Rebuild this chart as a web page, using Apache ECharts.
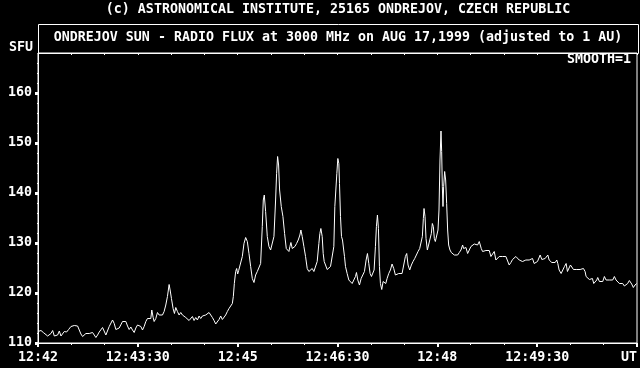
<!DOCTYPE html>
<html><head><meta charset="utf-8">
<script src="https://cdn.jsdelivr.net/npm/echarts@6/dist/echarts.min.js"></script>
<style>html,body{margin:0;padding:0;background:#000;overflow:hidden}#c{width:640px;height:368px}</style>
</head><body><div id="c"></div><script>
const header = '(c) ASTRONOMICAL INSTITUTE, 25165 ONDREJOV, CZECH REPUBLIC';
const chartTitle = 'ONDREJOV SUN - RADIO FLUX at 3000 MHz on AUG 17,1999 (adjusted to 1 AU)';
const yName = 'SFU';
const smoothNote = 'SMOOTH=1';
const xTickSeconds = [0, 90, 180, 270, 360, 450, 540];
const xTickLabels = ['12:42', '12:43:30', '12:45', '12:46:30', '12:48', '12:49:30', 'UT'];
const yTickValues = [110, 120, 130, 140, 150, 160];
const yMinorValues = [112, 114, 116, 118, 122, 124, 126, 128, 132, 134, 136, 138, 142, 144, 146, 148, 152, 154, 156, 158, 162, 164, 166];

// seconds after 12:42:00 UT
const seconds = [
0,2.7,4.8,6.6,8.7,10.2,11.7,13.2,14.7,16.2,17.7,19.2,20.7,22.2,23.7,25.8,27.6,29.7,31.2,32.7,34.2,35.7,37.2,38.7,40.2,41.7,43.2,44.7,46.2,47.7,49.2,50.7,52.2,53.7,55.2,56.7,58.2,59.7,61.2,62.7,64.2,65.7,67.2,68.7,70.2,71.7,73.2,74.7,76.2,77.7,79.2,80.7,82.2,83.7,85.2,86.7,88.2,89.7,91.2,
92.7,94.2,95.7,97.2,98.7,100.2,101.7,102.6,103.8,104.7,106.2,107.7,109.2,110.7,112.2,113.7,115.2,116.7,118.2,119.1,120.3,121.8,123.0,124.2,125.7,127.2,128.7,130.2,131.7,133.2,134.7,136.2,137.7,139.2,140.7,142.2,143.7,145.2,146.7,148.2,149.7,151.2,152.7,154.2,155.7,157.2,158.7,160.2,161.7,163.2,164.7,166.2,167.7,169.2,170.7,172.2,173.7,175.2,176.1,177.0,178.2,179.1,180.0,180.9,181.8,
182.7,184.2,185.7,187.2,188.7,190.2,191.7,193.2,194.7,196.2,197.7,199.2,200.7,202.2,203.1,204.0,205.2,206.7,208.2,209.7,211.2,212.7,214.2,215.1,216.0,216.9,217.8,219.3,220.8,222.3,223.8,225.0,226.2,227.1,228.0,229.2,230.4,231.6,233.1,234.6,236.1,237.0,238.2,239.7,241.2,242.7,244.2,245.7,247.2,248.7,250.2,251.7,253.2,254.1,255.0,256.2,257.1,258.0,259.2,260.7,262.2,263.7,265.2,266.7,267.6,268.5,269.4,270.3,271.2,
271.8,272.7,273.6,274.5,275.4,276.3,277.2,278.7,280.2,281.7,283.2,284.7,286.2,287.1,288.3,289.8,291.3,292.8,294.3,295.8,297.0,298.2,299.4,300.6,301.8,303.0,304.2,305.1,306.0,306.9,307.8,308.7,309.9,311.1,312.3,313.5,314.7,316.2,317.7,319.2,320.7,322.2,323.7,325.2,326.7,328.2,329.7,331.2,332.4,333.6,335.1,336.6,338.1,339.6,341.1,342.6,344.1,345.6,346.5,347.4,348.0,348.9,349.8,351.0,352.2,
354.6,355.5,356.4,357.3,358.2,359.4,360.6,361.5,362.4,363.3,363.9,364.5,365.1,365.7,366.6,367.5,368.4,369.3,370.2,371.4,372.6,373.8,375.3,376.8,378.3,379.8,381.3,382.8,383.7,384.6,385.8,387.3,388.8,390.3,391.8,393.3,394.8,396.3,397.8,398.7,399.6,400.8,402.3,403.8,405.3,406.8,408.3,409.8,411.3,412.8,414.3,415.8,417.3,418.8,420.3,421.8,423.3,424.8,426.3,427.8,429.3,430.8,432.3,433.8,435.3,436.8,438.3,439.8,441.3,442.8,444.3,445.8,447.3,448.8,450.3,451.8,
452.7,454.2,455.7,457.2,458.7,459.6,460.8,461.7,463.2,464.7,466.2,467.7,468.6,469.8,471.6,473.1,474.6,476.1,477.3,478.5,480.0,481.2,482.7,484.2,485.7,487.2,488.7,490.2,491.7,493.2,494.1,495.6,497.1,498.6,499.8,501.0,502.2,503.7,504.6,506.1,507.6,509.1,510.6,512.1,513.6,515.1,516.6,518.1,519.6,521.1,522.6,524.1,525.6,527.1,528.6,530.1,531.6,533.1,534.0,535.2,536.7,538.2,539.7
];
const flux = [
112.3,112.5,112.1,112.2,111.4,111.6,111.9,112.5,111.4,111.3,111.6,112.4,111.4,111.8,112.3,112.2,112.7,113.3,113.1,113.5,113.1,113.4,112.6,111.8,111.3,111.4,111.9,112.3,111.9,111.6,112.1,111.6,111.1,111.6,112.2,112.6,113.1,112.7,111.6,111.6,113.3,113.6,114.6,113.9,112.7,112.3,113.0,113.4,114.3,113.9,114.3,113.4,112.7,113.2,112.6,112.1,113.0,113.6,113.8,
113.3,112.6,113.3,114.3,114.9,115.1,114.9,116.6,115.1,114.3,114.9,116.1,115.6,115.8,115.6,116.3,117.6,119.3,121.7,120.6,118.9,116.9,115.9,117.1,116.3,115.6,116.1,115.6,115.8,115.1,114.7,114.5,114.9,115.3,114.5,115.1,114.6,115.4,114.9,115.4,115.1,115.6,115.9,116.1,116.3,115.1,114.5,113.8,114.1,114.7,115.4,114.7,114.9,115.6,116.3,116.9,117.4,117.9,119.3,121.9,124.3,124.9,123.8,124.5,124.3,
124.1,127.3,129.9,131.1,130.3,127.9,125.3,122.9,122.1,123.6,124.3,123.9,125.9,133.3,138.6,139.6,136.3,131.3,129.3,128.6,128.3,131.3,138.6,143.9,147.3,145.6,140.6,137.3,135.3,131.9,128.9,128.6,128.3,129.3,130.1,128.9,128.6,129.3,129.9,130.6,131.6,132.6,131.3,129.3,127.3,124.9,124.3,123.9,124.9,124.3,123.9,126.3,129.9,131.9,132.9,131.3,127.9,126.3,125.6,124.7,124.9,125.3,125.6,129.3,137.3,140.6,143.9,146.9,145.9,
141.9,135.3,131.3,130.6,130.3,127.3,125.3,123.9,122.6,122.3,121.9,122.6,123.3,124.1,122.6,121.6,122.9,123.6,124.3,126.6,127.9,125.9,123.9,123.3,123.1,124.6,129.3,133.3,135.6,132.9,125.3,121.9,120.7,122.3,122.6,121.9,122.9,123.9,124.6,125.8,124.9,123.6,123.6,123.9,123.6,123.9,125.6,127.3,127.9,125.6,124.6,125.6,126.3,126.9,127.3,128.3,128.9,128.6,131.3,134.9,136.9,135.3,130.9,128.6,128.9,
131.9,133.9,133.3,130.9,130.3,129.9,132.6,136.6,146.6,152.4,148.3,141.3,137.3,141.3,144.3,142.6,137.9,132.6,129.6,128.6,128.1,127.8,127.6,127.9,127.6,128.1,128.6,129.6,128.9,128.6,129.1,127.9,128.6,129.3,129.6,129.8,129.4,129.6,130.3,129.6,128.9,128.3,128.3,128.5,128.1,128.5,127.3,127.1,128.3,126.6,126.9,127.3,126.9,127.3,127.6,127.3,127.6,125.6,126.1,126.7,127.1,127.3,126.9,126.6,126.7,126.3,125.9,126.6,126.3,126.6,126.3,126.9,125.9,125.6,126.3,126.7,
127.6,126.7,126.3,126.9,126.7,127.6,126.6,126.3,126.1,125.9,126.1,126.6,125.9,124.6,123.9,124.3,125.3,125.9,124.3,124.6,125.6,125.3,124.7,124.5,124.7,124.5,124.7,124.5,124.9,124.3,123.3,122.9,122.7,122.3,122.9,121.9,121.6,122.6,123.1,122.3,122.6,122.3,123.3,122.6,122.3,122.6,122.3,122.6,123.3,122.6,122.3,121.9,122.3,121.9,121.4,121.8,121.9,122.5,122.9,121.8,121.1,121.6,121.9
];

const FONT = 'bold 13.3px "DejaVu Sans Mono", "Liberation Mono", monospace';
const W = '#ffffff';
const chart = echarts.init(document.getElementById('c'), null, { renderer: 'canvas' });

const linePairs = seconds.map((s, i) => [s, flux[i]]);

chart.setOption({
  animation: false,
  backgroundColor: '#000000',
  textStyle: { fontFamily: '"DejaVu Sans Mono", monospace', color: W },
  grid: { left: 38, right: 2, top: 53, bottom: 25, show: true, borderColor: W, borderWidth: 1, containLabel: false },
  graphic: [
    { type: 'rect', shape: { x: 38.5, y: 24.5, width: 600, height: 29 }, style: { fill: null, stroke: W, lineWidth: 1 }, silent: true },
    { type: 'text', x: 338, y: 10, style: { text: header, fill: W, font: FONT, textAlign: 'center', textVerticalAlign: 'middle', align: 'center', verticalAlign: 'middle' } },
    { type: 'text', x: 338, y: 38, style: { text: chartTitle, fill: W, font: FONT, textAlign: 'center', textVerticalAlign: 'middle', align: 'center', verticalAlign: 'middle' } },
    { type: 'text', x: 33, y: 48, style: { text: yName, fill: W, font: FONT, textAlign: 'right', textVerticalAlign: 'middle', align: 'right', verticalAlign: 'middle' } },
    { type: 'text', x: 631, y: 60, style: { text: smoothNote, fill: W, font: FONT, textAlign: 'right', textVerticalAlign: 'middle', align: 'right', verticalAlign: 'middle' } }
  ],
  xAxis: [
    {
      type: 'value', min: 0, max: 540, interval: 90, position: 'bottom',
      axisLine: { show: true, lineStyle: { color: W, width: 1 } },
      axisTick: { show: true, length: 4, lineStyle: { color: W, width: 2 } },
      minorTick: { show: true, splitNumber: 3, length: 2, lineStyle: { color: W, width: 1 } },
      splitLine: { show: false },
      axisLabel: {
        show: true, color: W, margin: 8, fontSize: 13.3, fontWeight: 'bold', fontFamily: '"DejaVu Sans Mono", monospace',
        alignMaxLabel: 'right',
        formatter: v => { const i = xTickSeconds.indexOf(v); return i >= 0 ? xTickLabels[i] : ''; }
      }
    },
    {
      type: 'value', min: 0, max: 540, interval: 30, position: 'top',
      axisLine: { show: true, lineStyle: { color: W, width: 1 } },
      axisTick: { show: true, inside: true, length: 2, lineStyle: { color: W, width: 1 } },
      splitLine: { show: false },
      axisLabel: { show: false }
    }
  ],
  yAxis: [
    {
      type: 'value', min: 110, max: 168, position: 'left',
      axisLine: { show: true, lineStyle: { color: W, width: 1 } },
      axisTick: { show: true, length: 3, customValues: yTickValues, lineStyle: { color: W, width: 3 } },
      splitLine: { show: false },
      axisLabel: { show: true, color: W, margin: 6, fontSize: 13.3, fontWeight: 'bold', fontFamily: '"DejaVu Sans Mono", monospace', customValues: yTickValues }
    },
    {
      type: 'value', min: 110, max: 168, position: 'left', offset: 0,
      axisLine: { show: false },
      axisTick: { show: true, length: 1, customValues: yMinorValues, lineStyle: { color: W, width: 1 } },
      splitLine: { show: false },
      axisLabel: { show: false }
    }
  ],
  series: [{
    type: 'line', xAxisIndex: 0, yAxisIndex: 0, data: linePairs,
    showSymbol: false, symbol: 'none',
    lineStyle: { color: W, width: 1 }, itemStyle: { color: W },
    clip: true
  }]
});
</script></body></html>
